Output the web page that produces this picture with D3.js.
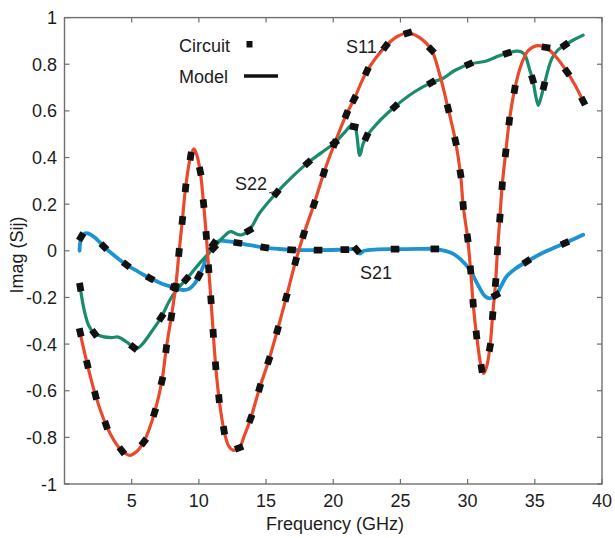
<!DOCTYPE html>
<html>
<head>
<meta charset="utf-8">
<script src="https://cdn.jsdelivr.net/npm/d3@7"></script>
<style>
  body { margin: 0; background: #fff; }
  svg { display: block; }
  text { font-family: "Liberation Sans", Arial, Helvetica, sans-serif; fill: #1c1c1c; }
</style>
</head>
<body>
<svg id="chart" width="615" height="538"></svg>
<script>
// Axis ticks
const xTicks = [5, 10, 15, 20, 25, 30, 35, 40];
const yTicks = [-1, -0.8, -0.6, -0.4, -0.2, 0, 0.2, 0.4, 0.6, 0.8, 1];

// Model curves: [frequency GHz, Imag(Sij)]
const s11Model = [[1.15,-0.35],[1.7,-0.487],[2.31,-0.62],[3.1,-0.748],[3.7,-0.815],[4.27,-0.857],[4.85,-0.877],[5.35,-0.862],[5.9,-0.82],[6.3,-0.765],[6.7,-0.694],[7.25,-0.558],[7.57,-0.42],[7.95,-0.283],[8.27,-0.156],[8.52,-0.007],[8.77,0.13],[9.01,0.27],[9.39,0.406],[9.63,0.437],[9.85,0.41],[10.1,0.341],[10.35,0.202],[10.55,0.066],[10.73,-0.077],[10.9,-0.21],[11.07,-0.354],[11.25,-0.493],[11.5,-0.634],[11.87,-0.77],[12.2,-0.835],[12.54,-0.855],[12.99,-0.845],[13.4,-0.79],[13.85,-0.72],[14.52,-0.588],[15.2,-0.47],[15.85,-0.34],[16.5,-0.2],[17.2,-0.045],[17.8,0.07],[18.57,0.2],[19.3,0.334],[20.1,0.46],[20.98,0.585],[21.55,0.65],[22.5,0.77],[23.9,0.877],[24.8,0.92],[25.6,0.934],[26.4,0.915],[27.3,0.862],[27.9,0.76],[28.55,0.61],[29.1,0.47],[29.47,0.33],[29.67,0.194],[30.0,0.055],[30.22,-0.082],[30.41,-0.225],[30.66,-0.361],[31.04,-0.505],[31.2,-0.526],[31.4,-0.5],[31.66,-0.414],[31.86,-0.278],[32.08,-0.136],[32.22,0.0],[32.4,0.14],[32.57,0.279],[32.83,0.42],[33.1,0.556],[33.5,0.692],[34.0,0.8],[34.5,0.858],[35.1,0.879],[35.83,0.872],[36.6,0.83],[37.4,0.767],[38.0,0.71],[38.6,0.642]];
const s21Model = [[1.12,0.0],[1.22,0.05],[1.45,0.072],[1.74,0.075],[2.3,0.055],[2.93,0.018],[3.7,-0.02],[4.6,-0.06],[5.5,-0.09],[6.38,-0.118],[7.3,-0.142],[8.19,-0.158],[8.8,-0.168],[9.3,-0.162],[9.7,-0.14],[10.0,-0.108],[10.3,-0.07],[10.55,-0.03],[10.85,0.01],[11.1,0.03],[11.55,0.043],[12.2,0.04],[12.9,0.034],[13.8,0.024],[14.9,0.014],[15.9,0.008],[16.9,0.004],[18.87,0.003],[20.86,0.005],[21.7,0.006],[21.97,-0.012],[22.3,0.0],[23.3,0.006],[24.6,0.007],[26.4,0.008],[27.56,0.008],[28.3,0.0],[28.9,-0.012],[29.5,-0.038],[30.17,-0.082],[30.8,-0.15],[31.3,-0.195],[31.66,-0.204],[32.1,-0.19],[32.5,-0.15],[32.9,-0.11],[33.6,-0.075],[34.4,-0.046],[35.8,-0.003],[37.24,0.033],[38.6,0.069]];
const s22Model = [[1.17,-0.156],[1.45,-0.25],[1.8,-0.32],[2.23,-0.354],[2.85,-0.368],[3.5,-0.372],[4.0,-0.37],[4.6,-0.39],[5.14,-0.414],[5.4,-0.419],[5.8,-0.4],[6.5,-0.345],[7.2,-0.285],[7.8,-0.215],[8.32,-0.17],[9.06,-0.122],[10.06,-0.053],[11.1,0.012],[11.8,0.058],[12.35,0.082],[12.8,0.072],[13.16,0.068],[13.73,0.087],[14.52,0.162],[15.77,0.248],[17.0,0.32],[18.1,0.377],[19.1,0.42],[20.1,0.463],[20.8,0.505],[21.36,0.538],[21.6,0.535],[21.97,0.409],[22.2,0.455],[22.47,0.489],[23.5,0.56],[24.58,0.618],[26.0,0.68],[27.3,0.721],[28.18,0.74],[29.0,0.772],[30.1,0.8],[31.4,0.814],[32.3,0.835],[32.95,0.847],[33.6,0.856],[34.0,0.853],[34.3,0.835],[34.6,0.78],[34.84,0.735],[35.1,0.655],[35.26,0.624],[35.45,0.655],[35.68,0.707],[36.25,0.822],[36.7,0.86],[37.24,0.882],[37.9,0.905],[38.6,0.925]];

// Circuit simulation points: [frequency GHz, Imag(Sij)]
const s11Circuit = [[1.17,-0.35],[1.7,-0.487],[2.31,-0.62],[3.1,-0.748],[4.27,-0.857],[5.9,-0.82],[6.7,-0.694],[7.25,-0.558],[7.57,-0.42],[7.95,-0.283],[8.27,-0.156],[8.52,-0.007],[8.77,0.13],[9.01,0.27],[9.39,0.406],[10.1,0.341],[10.35,0.202],[10.55,0.066],[10.73,-0.077],[10.9,-0.21],[11.07,-0.354],[11.25,-0.493],[11.5,-0.634],[11.87,-0.77],[12.99,-0.845],[13.85,-0.72],[14.52,-0.588],[15.2,-0.47],[15.85,-0.34],[16.5,-0.2],[17.2,-0.045],[17.8,0.07],[18.57,0.2],[19.3,0.334],[20.1,0.46],[20.98,0.585],[21.55,0.65],[22.5,0.77],[23.9,0.877],[25.55,0.934],[27.3,0.862],[28.55,0.61],[29.1,0.47],[29.47,0.33],[29.67,0.194],[30.0,0.055],[30.22,-0.082],[30.41,-0.225],[30.66,-0.361],[31.04,-0.505],[31.66,-0.414],[31.86,-0.278],[32.08,-0.136],[32.22,0.0],[32.4,0.14],[32.57,0.279],[32.83,0.42],[33.1,0.556],[33.5,0.692],[35.83,0.872],[37.4,0.767],[38.6,0.642]];
const s21Circuit = [[1.24,0.06],[2.93,0.018],[4.6,-0.06],[6.38,-0.118],[8.19,-0.158],[10.0,-0.108],[11.1,0.03],[12.9,0.034],[14.9,0.014],[16.9,0.004],[18.87,0.003],[20.86,0.005],[21.75,0.004],[24.6,0.007],[27.56,0.008],[32.1,-0.19],[34.4,-0.046],[37.24,0.033]];
const s22Circuit = [[1.17,-0.156],[2.23,-0.354],[5.14,-0.414],[7.2,-0.285],[9.06,-0.122],[11.1,0.012],[13.73,0.087],[15.77,0.248],[18.1,0.377],[20.1,0.463],[21.55,0.532],[22.47,0.489],[24.58,0.618],[27.3,0.721],[30.1,0.8],[32.95,0.847],[34.84,0.735],[35.68,0.707],[37.24,0.882]];

const seriesNames = ["S21", "S22", "S11"];
const seriesColors = ["#1d93d4", "#1b8b6d", "#ea4a2c"];
const seriesModels = [s21Model, s22Model, s11Model];
const seriesCircuits = [s21Circuit, s22Circuit, s11Circuit];
const seriesWidths = [3.8, 3.2, 3.2];

const svg = d3.select("#chart");
const x = d3.scaleLinear().domain([0, 40]).range([64.5, 602]);
const y = d3.scaleLinear().domain([-1, 1]).range([484, 17.6]);

const axisColor = "#6f6f6f";
const tickLen = 5;

// Frame
svg.append("rect")
  .attr("x", x(0)).attr("y", y(1))
  .attr("width", x(40) - x(0)).attr("height", y(-1) - y(1))
  .attr("fill", "none").attr("stroke", axisColor).attr("stroke-width", 1.4);

// Inward ticks on all four sides
const ticks = svg.append("g").attr("stroke", axisColor).attr("stroke-width", 1.2);
xTicks.forEach(t => {
  ticks.append("line").attr("x1", x(t)).attr("x2", x(t)).attr("y1", y(-1)).attr("y2", y(-1) - tickLen);
  ticks.append("line").attr("x1", x(t)).attr("x2", x(t)).attr("y1", y(1)).attr("y2", y(1) + tickLen);
});
yTicks.forEach(t => {
  ticks.append("line").attr("x1", x(0)).attr("x2", x(0) + tickLen).attr("y1", y(t)).attr("y2", y(t));
  ticks.append("line").attr("x1", x(40)).attr("x2", x(40) - tickLen).attr("y1", y(t)).attr("y2", y(t));
});

// Tick labels
svg.append("g").selectAll("text").data(xTicks).join("text")
  .attr("x", d => x(d)).attr("y", 507)
  .attr("text-anchor", "middle").attr("font-size", 18)
  .text(d => String(d));
svg.append("g").selectAll("text").data(yTicks).join("text")
  .attr("x", 57).attr("y", d => y(d) + 6.5)
  .attr("text-anchor", "end").attr("font-size", 18)
  .text(d => String(d));

// Axis titles
svg.append("text").attr("x", 335).attr("y", 530)
  .attr("text-anchor", "middle").attr("font-size", 18).text("Frequency (GHz)");
svg.append("text").attr("transform", "translate(23,255) rotate(-90)")
  .attr("text-anchor", "middle").attr("font-size", 18).text("Imag (Sij)");

// Model lines
const line = d3.line()
  .x(d => x(d[0])).y(d => y(d[1]))
  .curve(d3.curveCatmullRom.alpha(0.5));

const plot = svg.append("g");
seriesModels.forEach((m, i) => {
  plot.append("path").datum(m)
    .attr("fill", "none")
    .attr("stroke", seriesColors[i])
    .attr("stroke-width", seriesWidths[i])
    .attr("stroke-linejoin", "round").attr("stroke-linecap", "round")
    .attr("d", line);
});

// Direction of the model curve (screen space) at a given frequency
function angleAt(model, f) {
  let k = 0;
  while (k < model.length - 2 && model[k + 1][0] < f) k++;
  const a = model[k], b = model[k + 1];
  return Math.atan2(y(b[1]) - y(a[1]), x(b[0]) - x(a[0])) * 180 / Math.PI;
}

// Circuit markers
seriesCircuits.forEach((c, i) => {
  plot.append("g").selectAll("rect").data(c).join("rect")
    .attr("x", -4.3).attr("y", -3.4).attr("width", 8.6).attr("height", 6.8)
    .attr("fill", "#111")
    .attr("transform", d => `translate(${x(d[0])},${y(d[1])}) rotate(${angleAt(seriesModels[i], d[0])})`);
});

// Curve labels
svg.append("text").attr("x", 346).attr("y", 53).attr("font-size", 18).text("S11");
svg.append("line").attr("x1", 379).attr("y1", 52).attr("x2", 385).attr("y2", 46)
  .attr("stroke", "#333").attr("stroke-width", 1);
svg.append("text").attr("x", 235).attr("y", 190).attr("font-size", 18).text("S22");
svg.append("line").attr("x1", 269).attr("y1", 193).attr("x2", 276).attr("y2", 191)
  .attr("stroke", "#333").attr("stroke-width", 1);
svg.append("text").attr("x", 360).attr("y", 279).attr("font-size", 18).text("S21");

// Legend
svg.append("text").attr("x", 179).attr("y", 52).attr("font-size", 18).text("Circuit");
svg.append("rect").attr("x", 246.5).attr("y", 41).attr("width", 6).attr("height", 6.5).attr("fill", "#111");
svg.append("text").attr("x", 179).attr("y", 83).attr("font-size", 18).text("Model");
svg.append("line").attr("x1", 244).attr("x2", 278).attr("y1", 76).attr("y2", 76)
  .attr("stroke", "#111").attr("stroke-width", 3.5);
</script>
</body>
</html>
